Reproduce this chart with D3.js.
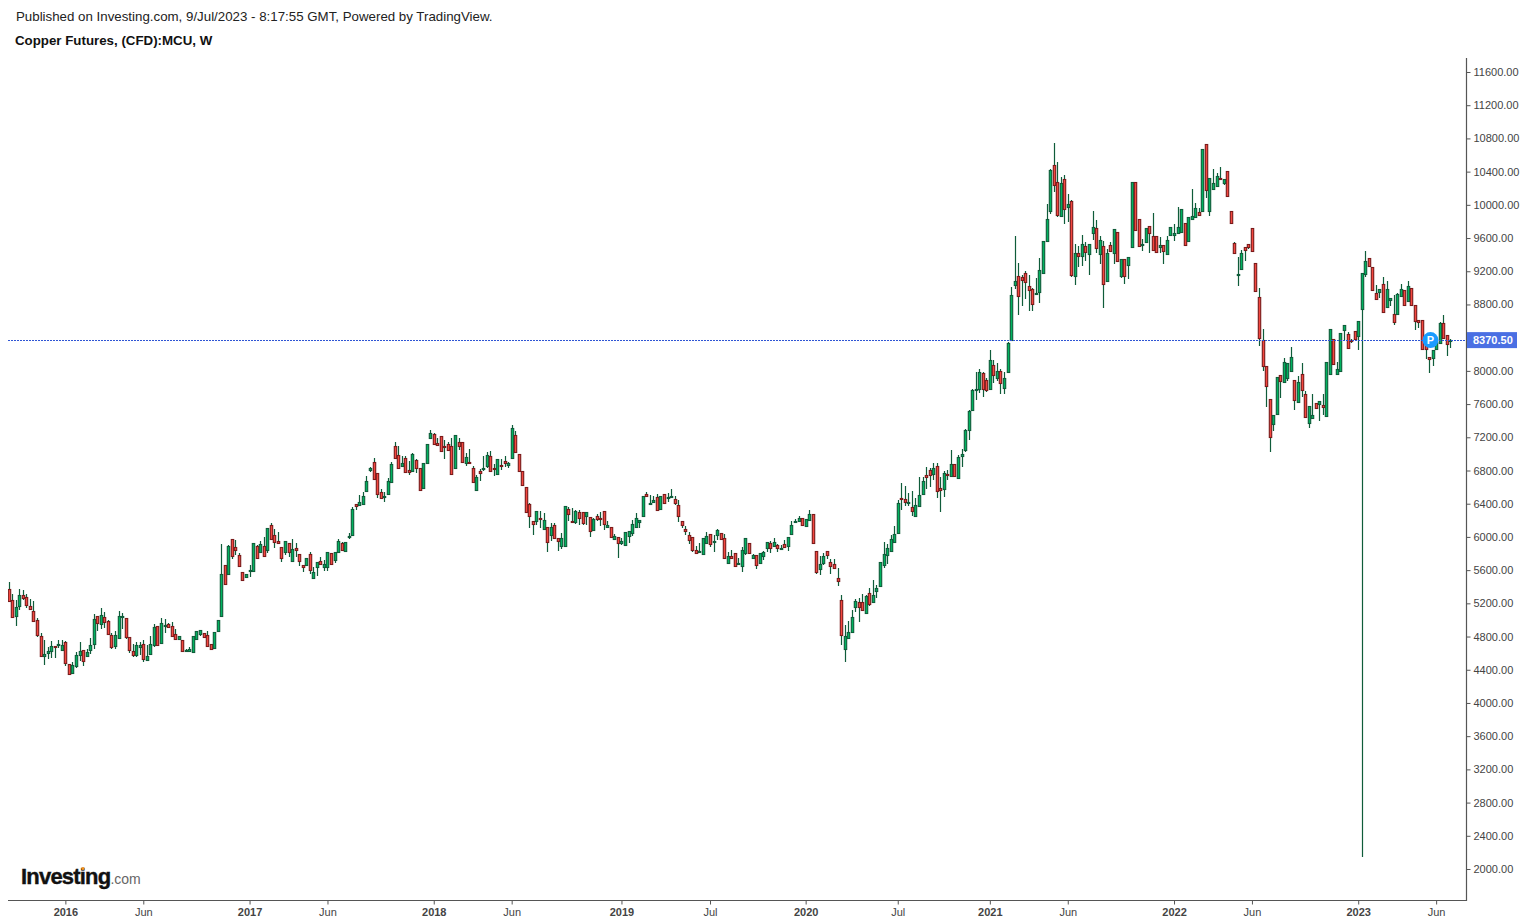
<!DOCTYPE html>
<html>
<head>
<meta charset="utf-8">
<script src="https://cdn.jsdelivr.net/npm/d3@7"></script>
<style>
  html, body { margin: 0; padding: 0; background: #fff; overflow: hidden; }
  text { font-family: "Liberation Sans", Arial, sans-serif; }
</style>
</head>
<body>
<div id="chart"></div>
<script>
// weekly candles
const opens = [
5378,5238,5038,5170,5306,5282,5162,5102,4994,4802,
4558,4594,4618,4682,4690,4630,4730,4466,4358,4446,
4574,4634,4558,4630,4706,5042,4942,5030,4982,4814,
4678,4778,5026,5018,4790,4622,4570,4670,4706,4518,
4582,4690,4922,4714,4918,4950,4922,4826,4766,4754,
4630,4618,4606,4766,4822,4838,4814,4706,4658,4858,
5054,5660,5560,5972,5876,5780,5576,5512,5600,5584,
5892,5812,5892,5836,6140,6020,5948,5876,5812,5924,
5704,5864,5792,5660,5656,5792,5500,5632,5708,5632,
5632,5804,5716,5812,5924,5824,5992,6016,6396,6376,
6388,6556,6808,6908,6764,6536,6472,6508,6664,7100,
6992,6856,6956,6812,6796,6932,6836,6592,6892,7192,
7244,7136,7220,7100,7124,7100,6832,7148,7148,6892,
6908,6836,6556,6800,6836,6856,6980,6836,6760,6872,
6920,6868,6952,7232,7004,6800,6596,6392,6188,6184,
6224,6088,6116,6016,6140,5984,5884,5884,6332,6188,
6172,6296,6296,6244,6236,6076,6248,6224,6308,6112,
6116,5972,5996,5920,5900,6008,6044,6116,6172,6248,
6512,6404,6416,6476,6332,6512,6476,6488,6452,6380,
6186,6090,6018,5994,5838,5826,5798,5918,6030,5934,
6014,6042,5982,5686,5770,5802,5678,5642,5798,5922,
5738,5778,5678,5762,5858,5922,5882,5898,5850,5910,
5882,6026,6186,6186,6222,6126,6210,6282,5826,5606,
5678,5826,5694,5670,5502,5238,4646,4778,4850,5150,
5214,5214,5082,5322,5210,5342,5402,5662,5774,5822,
5930,6050,6468,6460,6416,6360,6248,6368,6512,6744,
6804,6752,6852,6588,6572,6756,6728,6876,6704,6968,
7040,7284,7520,7776,7784,7980,7896,7784,8076,7920,
8004,7796,7988,8377,9029,9141,9129,9177,9021,8985,
8933,8945,9173,9561,9933,10485,10281,9861,10317,9965,
10041,9141,9417,9381,9501,9405,9657,9717,9405,9501,
9081,9513,9413,9669,9137,9345,9273,9501,10281,9825,
9513,9549,9741,9629,9621,9489,9513,9405,9633,9633,
9657,9669,9777,9561,9825,9849,9909,9933,10737,9933,
10193,10233,10329,10269,10413,9921,9537,9165,9232,9496,
9532,9724,9304,8884,8368,8056,7660,7360,7476,7948,
7864,7912,7992,7888,7624,7960,7720,7368,7428,7612,
7596,7588,7452,7960,8380,7960,7992,8488,8440,8368,
8476,8416,8748,9172,9364,9256,8932,8956,9052,8772,
8848,8680,8680,8908,8980,8848,9004,8788,8608,8608,
8312,8164,8152,8272,8328,8572,8428,8356
];
const highs = [
5458,5318,5238,5370,5358,5318,5250,5226,5018,4838,
4758,4670,4746,4682,4754,4754,4746,4470,4490,4614,
4734,4642,4646,4778,5070,5046,5142,5094,4994,4846,
4866,5102,5082,5018,4794,4706,4730,4730,4754,4698,
4806,4950,4922,5022,5010,4962,4974,4890,4806,4762,
4646,4674,4802,4870,4874,4838,4866,4706,4850,4994,
5910,5660,5900,5972,5960,5804,5576,5556,5664,5924,
5900,5952,6000,6104,6168,6092,6060,5876,5948,5924,
5976,5924,5792,5660,5752,5816,5636,5696,5756,5724,
5816,5804,5816,5972,5936,5936,6044,6360,6396,6504,
6536,6732,6844,6948,6764,6572,6536,6704,6908,7148,
7100,6972,6980,6920,7016,6944,6836,6896,7124,7292,
7256,7188,7220,7164,7148,7188,7232,7196,7148,7008,
7056,6860,6740,6824,6972,7028,7040,6884,6944,6944,
6980,6908,7344,7272,7004,6800,6596,6404,6192,6316,
6308,6288,6116,6164,6164,5984,6048,6368,6360,6348,
6320,6320,6296,6296,6236,6224,6272,6296,6308,6188,
6124,6032,5996,5992,6056,6068,6200,6288,6200,6488,
6536,6500,6492,6512,6488,6516,6524,6576,6488,6440,
6194,6126,6058,5998,5890,5926,5986,6054,6030,6022,
6094,6042,6034,5818,5838,5802,5742,5874,5986,5922,
5798,5778,5802,5834,5934,5946,5982,5910,5898,5958,
5994,6186,6210,6246,6222,6210,6330,6282,5826,5770,
5802,5826,5738,5730,5622,5298,4942,4990,5122,5250,
5262,5310,5298,5386,5482,5418,5694,5938,5910,6018,
6130,6442,6648,6616,6528,6556,6464,6724,6724,6844,
6828,6892,6892,6724,6796,6804,7048,6876,6984,7060,
7296,7524,7776,7984,8028,7992,7920,8248,8128,8100,
8028,7992,8352,9013,9625,9297,9153,9201,9157,8997,
9117,9357,9561,10009,10437,10749,10521,10341,10365,10125,
10053,9525,9505,9633,9549,9525,9925,9817,9621,9561,
9465,9557,9705,9669,9345,9345,9369,10281,10281,9825,
9589,9717,9741,9897,9621,9609,9513,9621,9729,9765,
9969,9945,9777,9849,10185,10017,9957,10677,10737,10329,
10437,10389,10461,10317,10413,9921,9549,9369,9460,9496,
9532,9724,9304,9004,8500,8056,7660,7468,7924,7948,
8152,8092,8288,7888,7940,8092,7756,7576,7724,7612,
7636,7724,8104,8500,8380,8104,8452,8548,8464,8380,
8476,8596,9184,9440,9364,9256,9040,8992,9136,9088,
8872,8908,8932,9052,8980,9088,9004,8788,8608,8608,
8332,8164,8248,8372,8588,8672,8428,8380
];
const lows = [
5230,5026,4930,5122,5238,5146,5122,4978,4794,4558,
4462,4534,4546,4546,4662,4630,4450,4346,4358,4426,
4510,4450,4558,4590,4654,4870,4886,4906,4822,4654,
4654,4778,4890,4774,4606,4558,4558,4574,4498,4510,
4582,4678,4690,4714,4846,4918,4798,4766,4766,4618,
4618,4618,4606,4766,4806,4786,4682,4642,4658,4858,
5054,5432,5560,5728,5788,5644,5464,5500,5520,5584,
5736,5812,5776,5812,5968,5872,5920,5692,5788,5764,
5692,5764,5644,5572,5656,5548,5500,5524,5668,5584,
5584,5668,5680,5812,5840,5824,5976,6016,6324,6376,
6388,6556,6780,6700,6468,6460,6420,6508,6664,6952,
6832,6844,6784,6748,6796,6772,6556,6592,6892,7192,
7124,7108,7036,6940,7052,6760,6832,7048,6904,6856,
6892,6664,6556,6676,6796,6836,6796,6736,6760,6808,
6844,6832,6952,7024,6784,6628,6292,6112,6024,6148,
6112,6088,5824,5956,5980,5836,5860,5884,6188,6172,
6160,6148,6148,6148,6004,6068,6196,6136,6088,6112,
5984,5972,5752,5908,5900,5932,6016,6116,6112,6248,
6488,6384,6416,6320,6332,6404,6416,6464,6380,6184,
6110,6026,5918,5822,5798,5822,5798,5918,5882,5822,
5958,5966,5738,5674,5738,5642,5678,5582,5786,5798,
5738,5618,5678,5726,5822,5810,5882,5822,5850,5870,
5834,6026,6174,6186,6126,6126,6210,5930,5558,5546,
5666,5738,5558,5618,5410,4702,4490,4766,4850,5090,
4970,5102,5074,5162,5210,5270,5402,5630,5678,5822,
5930,6050,6328,6376,6376,6248,6248,6368,6512,6572,
6604,6688,6464,6296,6476,6680,6728,6716,6692,6844,
7028,7172,7520,7648,7736,7688,7748,7784,7856,7884,
7720,7720,7976,8370,8981,8669,8777,8861,8717,8717,
8909,8813,9161,9561,9893,10157,9857,9861,9773,9797,
9125,9029,9257,9269,9329,9149,9581,9425,9293,8753,
9081,9441,9293,9321,9113,9041,9101,9485,9705,9501,
9449,9549,9425,9465,9429,9417,9293,9405,9633,9569,
9645,9669,9513,9561,9825,9849,9873,9933,10085,9869,
10193,10233,10317,10237,10113,9777,9417,9017,9232,9324,
9472,9448,8968,8304,8004,7560,7020,7272,7476,7668,
7864,7884,7992,7532,7624,7680,7428,7308,7428,7548,
7392,7464,7452,7960,8076,7960,7992,8368,8268,8340,
8380,8256,2145,9132,9268,8980,8860,8880,8712,8772,
8784,8556,8680,8908,8800,8848,8800,8496,8520,8260,
8148,7980,8064,8272,8328,8392,8184,8280
];
const closes = [
5230,5038,5150,5306,5266,5182,5122,4978,4810,4558,
4586,4622,4682,4678,4706,4694,4474,4346,4454,4574,
4622,4498,4610,4694,5006,4954,5054,4966,4822,4670,
4814,5042,5042,4786,4634,4570,4694,4694,4522,4562,
4706,4910,4690,4958,4934,4918,4798,4766,4802,4618,
4638,4646,4802,4862,4874,4786,4682,4642,4850,4994,
5558,5432,5892,5768,5836,5644,5476,5552,5600,5924,
5748,5912,5776,6104,5968,5932,5920,5740,5948,5812,
5852,5836,5704,5632,5744,5596,5576,5696,5668,5672,
5816,5668,5816,5948,5840,5936,6008,6332,6372,6416,
6488,6672,6836,6700,6508,6460,6488,6668,6884,6952,
6832,6896,6784,6784,7004,6832,6568,6896,7124,7256,
7124,7108,7036,7084,7052,6760,7232,7096,6904,6968,
6892,6664,6716,6772,6836,6992,6796,6832,6944,6856,
6892,6896,7316,7024,6796,6628,6292,6244,6148,6308,
6208,6200,5932,6116,5980,5944,5984,6368,6272,6172,
6308,6224,6160,6296,6068,6212,6208,6208,6152,6140,
5996,6008,5920,5948,6056,6068,6152,6224,6200,6488,
6488,6404,6440,6320,6488,6404,6480,6488,6404,6248,
6138,6062,5954,5834,5798,5826,5986,6006,5906,5946,
6078,5966,5738,5766,5750,5642,5682,5838,5982,5798,
5778,5654,5802,5814,5934,5858,5934,5858,5862,5870,
5994,6138,6186,6222,6138,6210,6282,5930,5570,5670,
5766,5774,5642,5618,5462,4814,4806,4854,5034,5226,
5150,5114,5286,5186,5298,5382,5694,5790,5862,5970,
6030,6414,6452,6428,6416,6316,6384,6504,6672,6716,
6740,6828,6548,6560,6768,6752,6876,6728,6960,6996,
7284,7512,7764,7776,7992,7784,7772,8136,7952,8004,
7856,7920,8340,8917,9081,8897,9093,9065,8973,8801,
8937,9213,9561,9825,10425,10245,9885,10257,9957,10005,
9149,9417,9381,9525,9429,9525,9729,9477,9573,9045,
9417,9441,9705,9321,9345,9137,9369,10281,9705,9501,
9525,9717,9657,9465,9429,9513,9441,9573,9729,9657,
9729,9945,9513,9849,9861,9957,9873,10677,10185,10329,
10269,10353,10325,10317,10113,9777,9417,9165,9424,9460,
9496,9448,8968,8392,8052,7816,7200,7468,7924,7872,
8104,8092,8164,7644,7864,7764,7440,7576,7468,7548,
7636,7560,8104,8500,8076,8020,8452,8548,8268,8356,
8380,8596,9184,9328,9268,8980,8860,8992,8712,8992,
8872,8580,8920,8992,8800,9028,8800,8592,8584,8260,
8260,8140,8248,8352,8572,8392,8320,8368
];

// price axis labels, 8400 sits under the last price tag
const priceLabels = [11600,11200,10800,10400,10000,9600,9200,8800,8000,7600,7200,6800,6400,6000,5600,5200,4800,4400,4000,3600,3200,2800,2400,2000];
const timeTickWeeks = [16,38,68,90,120,142,173,198,225,251,277,299,329,351,381,403];
const timeTickLabels = ["2016","Jun","2017","Jun","2018","Jun","2019","Jul","2020","Jul","2021","Jun","2022","Jun","2023","Jun"];
const lastPrice = 8370.5;

const width = 1530, height = 924;
const plotLeft = 8, plotRight = 1466, plotTop = 58, plotBottom = 900;

const x = d3.scaleLinear().domain([0, opens.length - 1]).range([8.7, 1450.3]);
const y = d3.scaleLinear().domain([2000, 11600]).range([869, 72]);
const snap = v => Math.round(v) + 0.5;

const svg = d3.select("#chart").append("svg")
  .attr("width", width)
  .attr("height", height)
  .style("display", "block");

svg.append("defs").append("clipPath").attr("id", "plot")
  .append("rect")
  .attr("x", plotLeft).attr("y", plotTop)
  .attr("width", plotRight - plotLeft).attr("height", plotBottom - plotTop);

// header
svg.append("text").attr("x", 16).attr("y", 21)
  .style("font-size", "13.3px").attr("fill", "#222")
  .text("Published on Investing.com, 9/Jul/2023 - 8:17:55 GMT, Powered by TradingView.");
svg.append("text").attr("x", 15).attr("y", 45)
  .style("font-size", "13.3px").style("font-weight", "bold").attr("fill", "#111")
  .text("Copper Futures, (CFD):MCU, W");

const candles = svg.append("g").attr("clip-path", "url(#plot)")
  .selectAll("g").data(d3.range(opens.length)).join("g");

candles.append("line")
  .attr("x1", i => snap(x(i))).attr("x2", i => snap(x(i)))
  .attr("y1", i => Math.round(y(highs[i]))).attr("y2", i => Math.round(y(lows[i])))
  .attr("stroke", "#0f5c3a")
  .attr("stroke-width", 1.2);

candles.append("rect")
  .attr("x", i => snap(x(i)) - 1.2)
  .attr("width", 2.4)
  .attr("y", i => snap(y(Math.max(opens[i], closes[i]))))
  .attr("height", i => Math.max(1, Math.round(Math.abs(y(opens[i]) - y(closes[i])))))
  .attr("fill", i => closes[i] >= opens[i] ? "#00b35f" : "#f4473f")
  .attr("stroke", i => closes[i] >= opens[i] ? "#0f5c3a" : "#7a1a1a")
  .attr("stroke-width", 1.1);

// last price line runs over the candles
svg.append("line")
  .attr("x1", plotLeft).attr("x2", plotRight)
  .attr("y1", Math.floor(y(lastPrice)) + 0.5).attr("y2", Math.floor(y(lastPrice)) + 0.5)
  .attr("stroke", "#2f55d4").attr("stroke-dasharray", "2,1");

// axes
const yAxis = d3.axisRight(y)
  .tickValues(priceLabels)
  .tickFormat(d3.format(".2f"))
  .tickSize(4).tickPadding(3);
const xAxis = d3.axisBottom(x)
  .tickValues(timeTickWeeks)
  .tickFormat((d, i) => timeTickLabels[i])
  .tickSize(4).tickPadding(4);

const gy = svg.append("g").attr("transform", `translate(${plotRight + 0.5},0)`).call(yAxis);
const gx = svg.append("g").attr("transform", `translate(0,${plotBottom + 0.5})`).call(xAxis);

[gy, gx].forEach(g => {
  g.select(".domain").remove();
  g.selectAll(".tick line").attr("stroke", "#555");
  g.selectAll(".tick text").attr("fill", "#444").style("font-size", "11px");
});
gx.selectAll(".tick text").filter((d, i) => /^\d/.test(timeTickLabels[i])).style("font-weight", "bold");

svg.append("line").attr("x1", plotRight + 0.5).attr("x2", plotRight + 0.5)
  .attr("y1", plotTop).attr("y2", plotBottom + 1).attr("stroke", "#555").attr("stroke-width", 1.2);
svg.append("line").attr("x1", plotLeft).attr("x2", plotRight + 0.5)
  .attr("y1", plotBottom + 0.5).attr("y2", plotBottom + 0.5).attr("stroke", "#555").attr("stroke-width", 1.2);

// last price label
svg.append("rect")
  .attr("x", plotRight + 1).attr("y", y(lastPrice) - 8)
  .attr("width", 50).attr("height", 16).attr("fill", "#4a6fe3");
svg.append("text")
  .attr("x", plotRight + 7).attr("y", y(lastPrice) + 4)
  .attr("fill", "#fff").style("font-size", "11px").style("font-weight", "bold")
  .text(d3.format(".2f")(lastPrice));

// position marker
const markerWeek = 401.4;
svg.append("circle")
  .attr("cx", x(markerWeek)).attr("cy", y(lastPrice))
  .attr("r", 8).attr("fill", "#1a9bff");
svg.append("text")
  .attr("x", x(markerWeek)).attr("y", y(lastPrice) + 4)
  .attr("text-anchor", "middle").attr("fill", "#fff")
  .style("font-size", "11px").style("font-weight", "bold")
  .text("P");

// logo
const logo = svg.append("text").attr("x", 21).attr("y", 884);
logo.append("tspan").text("Investing")
  .style("font-size", "22px").style("font-weight", "bold").style("letter-spacing", "-0.8px")
  .attr("fill", "#111").attr("stroke", "#111").attr("stroke-width", 0.4);
logo.append("tspan").text(".com")
  .style("font-size", "14px").attr("fill", "#666");
svg.append("circle").attr("cx", 83).attr("cy", 868.5).attr("r", 1.6).attr("fill", "#f7941d");
</script>
</body>
</html>
